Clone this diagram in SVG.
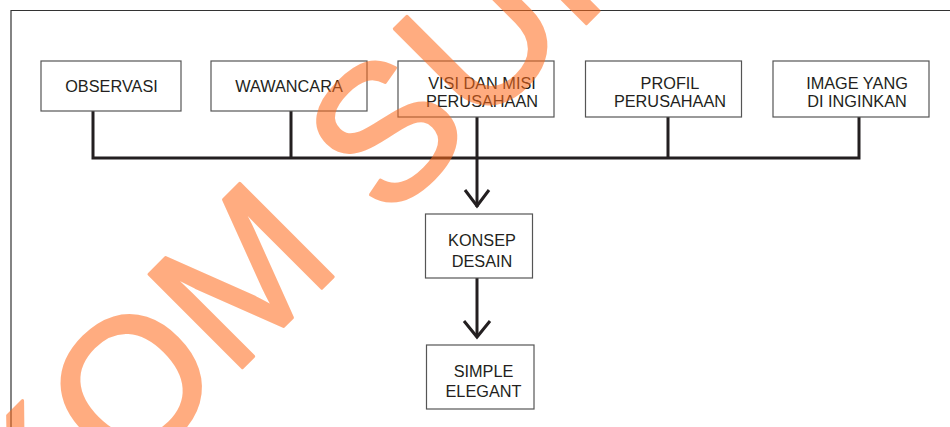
<svg xmlns="http://www.w3.org/2000/svg" width="950" height="427" viewBox="0 0 950 427">
<defs>
<style>
.box{fill:#ffffff;stroke:#555555;stroke-width:1.2}
.lbl{font-family:"Liberation Sans",Arial,sans-serif;font-size:16.3px;fill:#231f20;text-anchor:middle}
.ln{fill:none;stroke:#231f20;stroke-width:3}
.ah{fill:none;stroke:#231f20;stroke-width:3;stroke-linecap:butt}
.frame{fill:none;stroke:#333333;stroke-width:1.2}
.wm{font-family:"Liberation Sans",Arial,sans-serif;font-size:192px;fill:#ff6a1a;stroke:#ff6a1a;stroke-width:3;stroke-linejoin:round;opacity:0.55}
</style>
</defs>
<rect width="950" height="427" fill="#ffffff"/>
<path class="frame" d="M11,427 V10.5 H950"/>
<g id="connectors">
<path class="ln" d="M93,111 V158 M291,111 V158 M477,117 V158 M668,117 V158 M859,117 V158 M91.5,158 H860.5"/>
<path class="ln" d="M477,158 V207"/>
<path class="ah" d="M465,190 L477,206 L489,190"/>
<path class="ln" d="M477,278 V337"/>
<path class="ah" d="M464,321 L477,337 L490,321"/>
</g>
<g id="observasi">
<rect class="box" x="41" y="61" width="140" height="50"/>
<text class="lbl" x="111.5" y="92.3">OBSERVASI</text>
</g>
<g id="wawancara">
<rect class="box" x="211" y="61" width="156" height="50"/>
<text class="lbl" x="289" y="92.3">WAWANCARA</text>
</g>
<g id="visi-misi">
<rect class="box" x="398" y="61" width="156" height="56"/>
<text class="lbl" x="482" y="88.5">VISI DAN MISI</text>
<text class="lbl" x="482" y="106.7">PERUSAHAAN</text>
</g>
<g id="profil">
<rect class="box" x="585.5" y="61" width="156" height="56"/>
<text class="lbl" x="670" y="88.5">PROFIL</text>
<text class="lbl" x="670" y="106.7">PERUSAHAAN</text>
</g>
<g id="image">
<rect class="box" x="773" y="61" width="156" height="56"/>
<text class="lbl" x="857" y="88.5">IMAGE YANG</text>
<text class="lbl" x="857" y="106.7">DI INGINKAN</text>
</g>
<g id="konsep">
<rect class="box" x="425.5" y="214" width="107" height="64"/>
<text class="lbl" x="482" y="246">KONSEP</text>
<text class="lbl" x="482" y="267">DESAIN</text>
</g>
<g id="simple">
<rect class="box" x="426.5" y="345" width="107.5" height="64"/>
<text class="lbl" x="483.5" y="376.8">SIMPLE</text>
<text class="lbl" x="483.5" y="397">ELEGANT</text>
</g>
<text class="wm" transform="translate(-179,789) rotate(-45)">STIK<tspan dx="4">OM</tspan><tspan dx="60">SURABAYA</tspan></text>
</svg>
